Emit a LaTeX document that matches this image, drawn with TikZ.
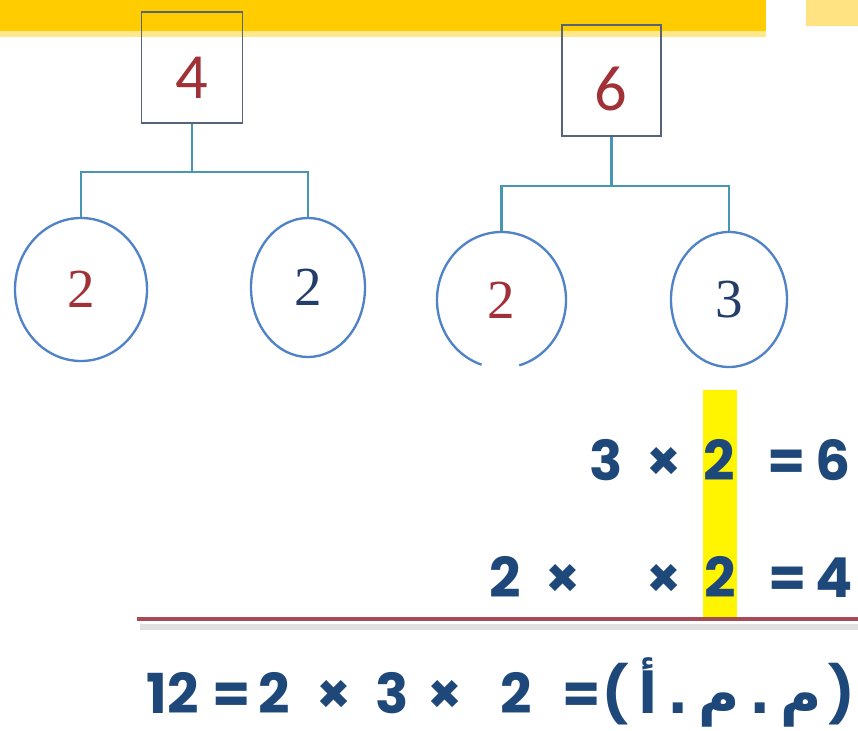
\documentclass[tikz,border=0pt]{standalone}
\usepackage{fontspec}
\usepackage{tikz}
\usetikzlibrary{shapes.geometric,positioning,calc}
\TeXXeTstate=1
\setmainfont{Liberation Serif}
\newfontfamily\boxfont{Carlito}
\newfontfamily\eqfont{Poppins}
\newfontfamily\arabicfont[Script=Arabic]{DejaVu Sans}
\definecolor{bandgold}{RGB}{255,204,0}
\definecolor{bandlight}{RGB}{255,226,130}
\definecolor{boxgray}{RGB}{85,100,120}
\definecolor{linkteal}{RGB}{70,150,180}
\definecolor{ringblue}{RGB}{80,130,200}
\definecolor{numred}{RGB}{160,50,55}
\definecolor{numblue}{RGB}{35,60,105}
\definecolor{eqblue}{RGB}{30,72,122}
\definecolor{rulered}{RGB}{165,75,85}
\definecolor{markyellow}{RGB}{255,245,0}

\begin{document}
\begin{tikzpicture}[x=0.03cm,y=-0.03cm,
  box/.style={rectangle,draw=boxgray,line width=1.7pt,inner sep=0pt,
              minimum height=3.33cm},
  ring/.style={ellipse,draw=ringblue,line width=2pt,inner sep=0pt,
               font=\fontsize{47}{47}\selectfont},
  link/.style={draw=linkteal,line width=2pt},
  bnum/.style={font=\boxfont\fontsize{55}{55}\selectfont,text=numred,inner sep=0pt},
  eq/.style={font=\eqfont\bfseries\fontsize{47}{47}\selectfont,text=eqblue,
             anchor=base,inner sep=0pt},
]
\useasboundingbox (0,0) rectangle (858,731);

% yellow band on top
\fill[bandgold!45] (0,30) rectangle (766,37);
\fill[bandgold] (0,0) rectangle (766,31);
\fill[bandlight] (806,0) rectangle (858,26);

% factor trees
\node[box,minimum width=3.03cm] (b4) at (192,67.5) {};
\node[bnum] (n4) at (192,78) {4};
\node[box,minimum width=2.97cm] (b6) at (611.5,80.5) {};
\node[bnum] (n6) at (611,89) {6};

\node[ring,minimum width=3.96cm,minimum height=4.29cm,text=numred]  (c1) at (81,289.5)  {2};
\node[ring,minimum width=3.42cm,minimum height=4.17cm,text=numblue] (c2) at (308,287.5) {2};
\node[ring,draw=none,minimum width=3.87cm,minimum height=4.08cm,text=numred] (c3) at (501.5,300) {2};
\node[ring,minimum width=3.48cm,minimum height=4.05cm,text=numblue] (c4) at (729,299.5) {3};
\draw[draw=ringblue,line width=2pt] ($(c3.center)+(-74:1.935cm and 2.04cm)$)
  arc[start angle=-74,end angle=252,x radius=1.935cm,y radius=2.04cm];

\draw[link] (b4.south) -- ++(0,48) coordinate (j4) -| (c1.north);
\draw[link] (j4) -| (c2.north);
\draw[link] (b6.south) -- ++(0,49) coordinate (j6) -| (c3.north);
\draw[link] (j6) -| (c4.north);

% highlight and rule
\fill[markyellow] (703,390) rectangle (737,618);
\draw[black!12,line width=5pt] (140,627) -- (858,627);
\draw[rulered,line width=3.2pt] (137,619) -- (858,619);

% equations
\foreach \x/\t [count=\i] in {606/3,664/×,719/2,787/=,833/6}
  \node[eq] (ra\i) at (\x,480) {\t};
\foreach \x/\t [count=\i] in {505/2,563/×,664/×,720/2,788/=,834/4}
  \node[eq] (rb\i) at (\x,597) {\t};
\foreach \x/\t [count=\i] in {173/12,232/=,274/2,334/×,392/3,445/×,516/2,582/=,616/(,842/)}
  \node[eq] (rc\i) at (\x,713) {\t};
\node[eq,font=\arabicfont\bfseries\fontsize{48}{48}\selectfont] (lcm) at (730,713)
  {\beginR م\hspace{0.17em}.\hspace{0.17em}م\hspace{0.17em}.\hspace{0.17em}أ\endR};
\end{tikzpicture}
\end{document}
